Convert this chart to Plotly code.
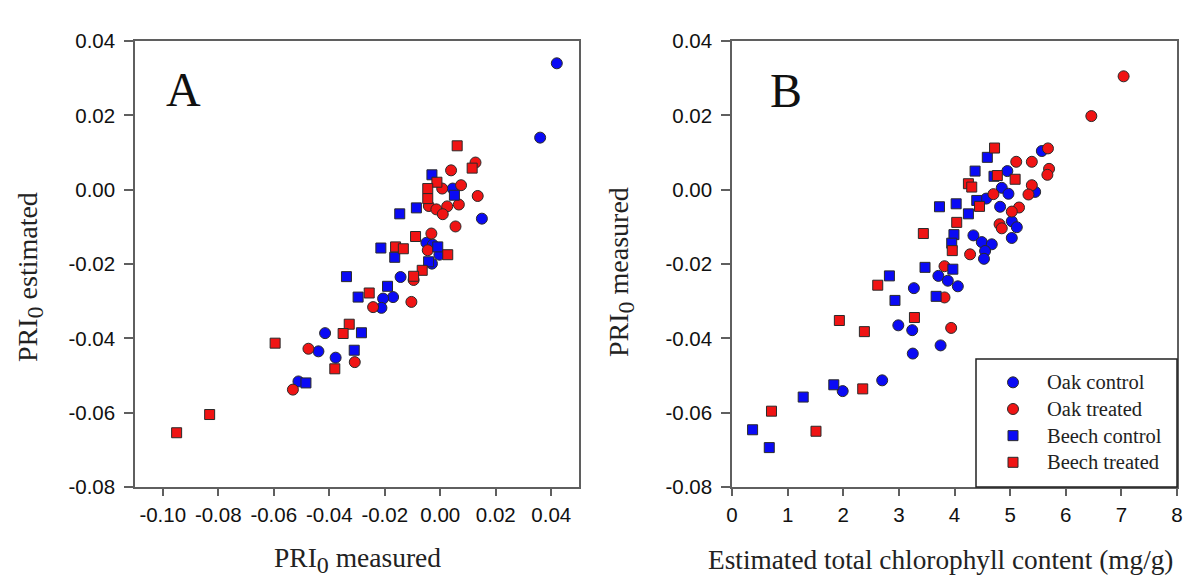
import plotly.graph_objects as go

# ---------------- data ----------------
series_names = ["Oak control", "Oak treated", "Beech control", "Beech treated"]

# Panel A: PRI0 measured (x) vs PRI0 estimated (y)
a_oak_control_x = [0.042, 0.036, 0.015, 0.0045, -0.005, -0.0027, -0.0003, -0.003, -0.0143, -0.017, -0.0206, -0.0212, -0.0415, -0.0439, -0.0377, -0.0511]
a_oak_control_y = [0.034, 0.014, -0.0078, 0.0003, -0.0143, -0.0148, -0.0175, -0.0199, -0.0235, -0.0289, -0.0293, -0.0318, -0.0386, -0.0435, -0.0452, -0.0516]
a_oak_treated_x = [0.0039, 0.0127, 0.0007, 0.0075, 0.0135, -0.0041, -0.0014, 0.0025, 0.0067, 0.0009, 0.0055, -0.0032, -0.0045, -0.0096, -0.0104, -0.0242, -0.0475, -0.0308, -0.0531]
a_oak_treated_y = [0.0052, 0.0073, 0.0003, 0.0012, -0.0017, -0.0044, -0.0053, -0.0045, -0.004, -0.0066, -0.0099, -0.0118, -0.0163, -0.0243, -0.0302, -0.0316, -0.0428, -0.0464, -0.0538]
a_beech_control_x = [-0.003, 0.0051, -0.0086, -0.0146, -0.0009, -0.0042, -0.0164, -0.0214, -0.0338, -0.019, -0.0296, -0.0284, -0.031, -0.0484]
a_beech_control_y = [0.004, -0.0015, -0.0049, -0.0065, -0.0154, -0.0194, -0.0182, -0.0157, -0.0234, -0.026, -0.0289, -0.0385, -0.0432, -0.052]
a_beech_treated_x = [0.0061, 0.0115, -0.0012, -0.0045, -0.0045, -0.0089, -0.0161, -0.0133, 0.0027, -0.0065, -0.0096, -0.0256, -0.0328, -0.035, -0.0595, -0.038, -0.0831, -0.095]
a_beech_treated_y = [0.0118, 0.0058, 0.002, 0.0003, -0.0024, -0.0126, -0.0154, -0.0159, -0.0175, -0.0217, -0.0233, -0.0278, -0.0362, -0.0387, -0.0413, -0.0482, -0.0605, -0.0654]

# Panel B: estimated total chlorophyll content (x) vs PRI0 measured (y)
b_oak_control_x = [5.57, 4.95, 4.85, 4.97, 5.45, 4.82, 4.57, 5.03, 5.12, 5.03, 4.34, 4.49, 4.67, 4.55, 4.53, 3.71, 3.88, 4.06, 3.27, 2.99, 3.24, 3.25, 3.75, 2.70, 1.99]
b_oak_control_y = [0.0104, 0.005, 0.0005, -0.0011, -0.0006, -0.0046, -0.0024, -0.0085, -0.0101, -0.013, -0.0123, -0.0141, -0.0147, -0.0165, -0.0186, -0.0232, -0.0245, -0.026, -0.0265, -0.0365, -0.0378, -0.0441, -0.0419, -0.0513, -0.0542]
b_oak_treated_x = [7.04, 6.46, 5.68, 5.11, 5.39, 5.70, 5.67, 5.39, 5.33, 5.16, 5.03, 4.81, 4.85, 4.28, 3.82, 3.82, 3.94, 4.70]
b_oak_treated_y = [0.0305, 0.0198, 0.0111, 0.0075, 0.0075, 0.0056, 0.004, 0.0012, -0.0013, -0.0048, -0.0059, -0.0093, -0.0104, -0.0174, -0.0206, -0.029, -0.0372, -0.0012]
b_beech_control_x = [4.59, 4.37, 4.71, 3.73, 4.03, 4.25, 4.40, 3.99, 3.95, 3.97, 3.47, 2.83, 2.93, 3.67, 1.83, 1.28, 0.37, 0.67]
b_beech_control_y = [0.0087, 0.005, 0.0036, -0.0046, -0.0038, -0.0065, -0.0029, -0.0121, -0.0144, -0.0214, -0.0209, -0.0232, -0.0298, -0.0287, -0.0525, -0.0558, -0.0646, -0.0694]
b_beech_treated_x = [4.72, 4.77, 5.09, 4.25, 4.31, 4.45, 4.04, 3.44, 3.96, 2.62, 1.93, 2.38, 3.28, 2.35, 0.71, 1.51]
b_beech_treated_y = [0.0112, 0.0038, 0.0028, 0.0016, 0.0007, -0.0045, -0.0088, -0.0118, -0.0164, -0.0257, -0.0352, -0.0382, -0.0344, -0.0536, -0.0596, -0.065]

# tick labels
a_xtick_vals = [-0.10, -0.08, -0.06, -0.04, -0.02, 0.00, 0.02, 0.04]
a_xtick_text = ["-0.10", "-0.08", "-0.06", "-0.04", "-0.02", "0.00", "0.02", "0.04"]
b_xtick_vals = [0, 1, 2, 3, 4, 5, 6, 7, 8]
b_xtick_text = ["0", "1", "2", "3", "4", "5", "6", "7", "8"]
ytick_vals = [0.04, 0.02, 0.00, -0.02, -0.04, -0.06, -0.08]
ytick_text = ["0.04", "0.02", "0.00", "-0.02", "-0.04", "-0.06", "-0.08"]

# ---------------- styling ----------------
W, H = 1203, 578
BLUE = "#0a0af5"
RED = "#f01414"
styles = {
    "Oak control": dict(symbol="circle", color=BLUE, size=11),
    "Oak treated": dict(symbol="circle", color=RED, size=11),
    "Beech control": dict(symbol="square", color=BLUE, size=10),
    "Beech treated": dict(symbol="square", color=RED, size=10),
}
SERIF = "Liberation Serif, Times New Roman, serif"
SANS = "Liberation Sans, Arial, sans-serif"
AXCOL = "#5f5f5f"

def px_x(p):
    return p / W

def px_y(p):
    return 1 - p / H

fig = go.Figure()

panel_a = {
    "Oak control": (a_oak_control_x, a_oak_control_y),
    "Oak treated": (a_oak_treated_x, a_oak_treated_y),
    "Beech control": (a_beech_control_x, a_beech_control_y),
    "Beech treated": (a_beech_treated_x, a_beech_treated_y),
}
panel_b = {
    "Oak control": (b_oak_control_x, b_oak_control_y),
    "Oak treated": (b_oak_treated_x, b_oak_treated_y),
    "Beech control": (b_beech_control_x, b_beech_control_y),
    "Beech treated": (b_beech_treated_x, b_beech_treated_y),
}

for name in series_names:
    st = styles[name]
    x, y = panel_a[name]
    fig.add_trace(go.Scatter(
        x=x, y=y, mode="markers", name=name, showlegend=False,
        marker=dict(symbol=st["symbol"], color=st["color"], size=st["size"],
                    line=dict(color="#2a2a2a", width=1)),
        xaxis="x", yaxis="y"))
for name in series_names:
    st = styles[name]
    x, y = panel_b[name]
    fig.add_trace(go.Scatter(
        x=x, y=y, mode="markers",
        name='<span style="font-size:20.5px">' + name + '</span>', showlegend=True,
        marker=dict(symbol=st["symbol"], color=st["color"], size=st["size"],
                    line=dict(color="#2a2a2a", width=1)),
        xaxis="x2", yaxis="y2"))

axis_common = dict(
    showgrid=False, zeroline=False, showline=True, linecolor=AXCOL, linewidth=1.5,
    mirror=True, ticks="outside", tickcolor=AXCOL, tickwidth=1.5,
    tickfont=dict(family=SANS, size=20.5, color="#111"), automargin=False,
    tickmode="array",
)

fig.update_layout(
    width=W, height=H, template="none",
    margin=dict(l=0, r=0, t=0, b=0),
    paper_bgcolor="white", plot_bgcolor="white",
    showlegend=True,
    xaxis=dict(axis_common, domain=[px_x(135), px_x(579)], range=[-0.11, 0.05],
               tickvals=a_xtick_vals, ticktext=a_xtick_text, ticklen=7,
               ticklabelstandoff=2, anchor="y"),
    yaxis=dict(axis_common, domain=[px_y(487), px_y(41)], range=[-0.08, 0.04],
               tickvals=ytick_vals, ticktext=ytick_text, ticklen=9,
               ticklabelstandoff=5, anchor="x"),
    xaxis2=dict(axis_common, domain=[px_x(732), px_x(1177)], range=[0, 8],
                tickvals=b_xtick_vals, ticktext=b_xtick_text, ticklen=7,
                ticklabelstandoff=2, anchor="y2"),
    yaxis2=dict(axis_common, domain=[px_y(487), px_y(41)], range=[-0.08, 0.04],
                tickvals=ytick_vals, ticktext=ytick_text, ticklen=9,
                ticklabelstandoff=5, anchor="x2"),
    legend=dict(x=px_x(976), y=px_y(364), xanchor="left", yanchor="top",
                bgcolor="rgba(0,0,0,0)", borderwidth=0,
                font=dict(family=SERIF, size=18.2, color="#222"),
                itemwidth=58, tracegroupgap=0, indentation=3),
    shapes=[dict(type="rect", xref="paper", yref="paper",
                 x0=px_x(976), x1=px_x(1177), y0=px_y(487), y1=px_y(359),
                 line=dict(color="#222", width=1.5), fillcolor="white", layer="above")],
)

SUB0 = '<sub><span style="font-size:24px">0</span></sub>'
annotations = [
    dict(text="A", x=px_x(183), y=px_y(90), xref="paper", yref="paper",
         showarrow=False, font=dict(family=SERIF, size=48, color="#111"),
         xanchor="center", yanchor="middle"),
    dict(text="B", x=px_x(786), y=px_y(91), xref="paper", yref="paper",
         showarrow=False, font=dict(family=SERIF, size=48, color="#111"),
         xanchor="center", yanchor="middle"),
    dict(text="PRI" + SUB0 + " measured", x=px_x(357), y=px_y(560), xref="paper", yref="paper",
         showarrow=False, font=dict(family=SERIF, size=27.5, color="#222"),
         xanchor="center", yanchor="middle"),
    dict(text="Estimated total chlorophyll content (mg/g)", x=px_x(940), y=px_y(560),
         xref="paper", yref="paper",
         showarrow=False, font=dict(family=SERIF, size=27.3, color="#222"),
         xanchor="center", yanchor="middle"),
    dict(text="PRI" + SUB0 + " estimated", x=px_x(30), y=px_y(277), xref="paper", yref="paper",
         showarrow=False, textangle=-90, font=dict(family=SERIF, size=28, color="#222"),
         xanchor="center", yanchor="middle"),
    dict(text="PRI" + SUB0 + " measured", x=px_x(621), y=px_y(272), xref="paper", yref="paper",
         showarrow=False, textangle=-90, font=dict(family=SERIF, size=28, color="#222"),
         xanchor="center", yanchor="middle"),
]
fig.update_layout(annotations=annotations)

fig.write_html("out.html", config={"displayModeBar": False},
               post_script="document.body.style.margin='0';document.body.style.overflow='hidden';")
